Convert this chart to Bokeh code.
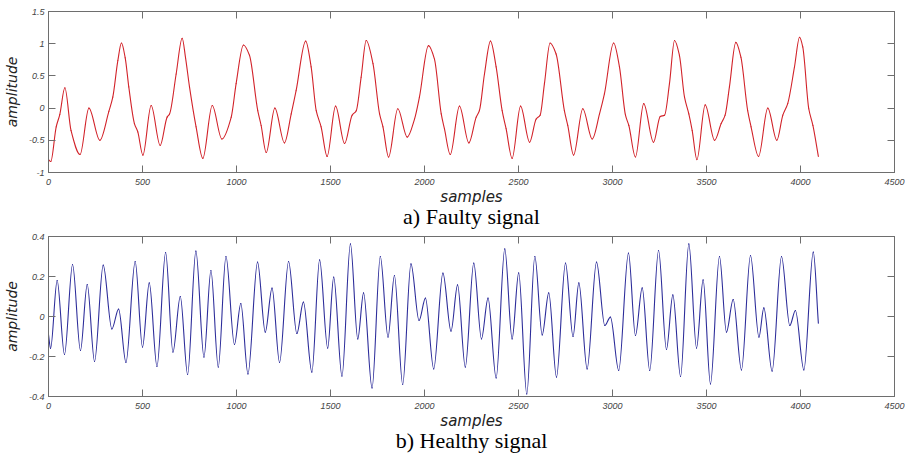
from bokeh.plotting import figure
from bokeh.layouts import column
from bokeh.models import LinearAxis, FixedTicker, Title, ColumnDataSource
from bokeh.embed import file_html
from bokeh.resources import INLINE

# ---- data ----
faulty_samples = [0, 12, 41, 60, 87, 120, 168, 215, 273, 321, 342, 369, 388, 408, 427, 457, 475, 502,
                  546, 594, 631, 644, 679, 711, 729, 750, 785, 821, 871, 922, 972, 998, 1037, 1069,
                  1113, 1131, 1158, 1204, 1255, 1291, 1317, 1368, 1397, 1424, 1450, 1482, 1527, 1575,
                  1615, 1637, 1663, 1690, 1726, 1761, 1779, 1809, 1858, 1908, 1947, 1973, 2021, 2053,
                  2089, 2106, 2137, 2186, 2236, 2275, 2292, 2319, 2351, 2381, 2413, 2434, 2466, 2511,
                  2559, 2594, 2615, 2638, 2668, 2700, 2744, 2762, 2793, 2842, 2892, 2931, 2957, 3006,
                  3037, 3069, 3087, 3122, 3166, 3218, 3254, 3277, 3303, 3330, 3356, 3383, 3406, 3424,
                  3449, 3493, 3543, 3578, 3599, 3622, 3656, 3683, 3719, 3737, 3777, 3826, 3874, 3906,
                  3932, 3968, 3995, 4012, 4044, 4066, 4095]
faulty_amp = [-0.80, -0.83, -0.29, -0.10, 0.315, -0.35, -0.72, 0.00, -0.50, -0.05, 0.17, 0.74, 1.01, 0.78, 0.33,
              -0.24, -0.37, -0.73, 0.04, -0.58, -0.14, -0.09, 0.53, 1.085, 0.78, 0.33, -0.29, -0.78, 0.04,
              -0.48, -0.14, 0.38, 0.98, 0.82, -0.04, -0.27, -0.69, 0.00, -0.54, -0.09, 0.27, 1.04, 0.64,
              -0.04, -0.29, -0.75, 0.03, -0.55, -0.11, -0.04, 0.48, 1.05, 0.69, -0.09, -0.29, -0.76, -0.01,
              -0.45, -0.17, 0.17, 0.97, 0.76, -0.09, -0.32, -0.72, 0.03, -0.54, -0.14, -0.04, 0.53, 1.04,
              0.64, -0.04, -0.32, -0.78, 0.03, -0.53, -0.17, -0.11, 0.38, 1.01, 0.84, -0.04, -0.27, -0.73,
              -0.01, -0.48, -0.09, 0.22, 1.01, 0.64, -0.11, -0.27, -0.76, 0.07, -0.53, -0.13, -0.11, 0.38,
              1.05, 0.82, 0.17, -0.09, -0.35, -0.80, 0.05, -0.50, -0.24, -0.11, 0.33, 1.02, 0.79, -0.04,
              -0.29, -0.75, 0.00, -0.50, -0.11, 0.07, 0.64, 1.10, 0.95, -0.01, -0.27, -0.75]

healthy_samples = [0, 11, 46, 85, 128, 170, 206, 245, 291, 337, 373, 412, 461, 500, 536, 577, 623, 662,
                   701, 740, 784, 827, 864, 903, 944, 989, 1023, 1061, 1112, 1153, 1189, 1229, 1277, 1321,
                   1356, 1401, 1442, 1485, 1517, 1561, 1606, 1645, 1676, 1721, 1765, 1806, 1840, 1884,
                   1928, 1971, 2005, 2049, 2098, 2141, 2176, 2217, 2262, 2303, 2338, 2381, 2427, 2466,
                   2501, 2544, 2587, 2626, 2661, 2702, 2750, 2790, 2821, 2865, 2915, 2959, 2989, 3033,
                   3085, 3122, 3158, 3198, 3245, 3287, 3321, 3362, 3406, 3447, 3482, 3521, 3569, 3606,
                   3642, 3686, 3734, 3779, 3805, 3849, 3899, 3943, 3973, 4018, 4068, 4095]
healthy_amp = [-0.09, -0.16, 0.18, -0.19, 0.26, -0.17, 0.16, -0.225, 0.257, -0.062, 0.037, -0.23, 0.275,
               -0.153, 0.168, -0.25, 0.32, -0.178, 0.10, -0.29, 0.327, -0.203, 0.23, -0.253, 0.30, -0.14,
               0.065, -0.287, 0.272, -0.078, 0.142, -0.23, 0.275, -0.085, 0.072, -0.278, 0.283, -0.158,
               0.197, -0.298, 0.363, -0.112, 0.118, -0.357, 0.30, -0.103, 0.205, -0.34, 0.263, -0.02,
               0.092, -0.262, 0.217, -0.073, 0.158, -0.253, 0.267, -0.112, 0.092, -0.307, 0.338, -0.112,
               0.218, -0.387, 0.30, -0.092, 0.118, -0.303, 0.267, -0.10, 0.168, -0.262, 0.272, -0.045,
               -0.003, -0.27, 0.317, -0.095, 0.143, -0.27, 0.33, -0.165, 0.108, -0.30, 0.363, -0.158,
               0.183, -0.337, 0.30, -0.078, 0.085, -0.267, 0.305, -0.103, 0.043, -0.273, 0.30, -0.045,
               0.03, -0.267, 0.322, -0.033]

x_ticks = [0, 500, 1000, 1500, 2000, 2500, 3000, 3500, 4000, 4500]
top_y_ticks = [-1, -0.5, 0, 0.5, 1, 1.5]
top_y_labels = ["-1", "-0.5", "0", "0.5", "1", "1.5"]
bot_y_ticks = [-0.4, -0.2, 0, 0.2, 0.4]
bot_y_labels = ["-0.4", "-0.2", "0", "0.2", "0.4"]

FRAME = "#6e6e6e"
TICKC = "#444444"


def smooth_segments(xs, ys):
    """Monotone cubic (Fritsch-Carlson) segments expressed as Bezier control points,
    so the library draws a smooth curve through the read points."""
    n = len(xs)
    h = [xs[i + 1] - xs[i] for i in range(n - 1)]
    d = [(ys[i + 1] - ys[i]) / h[i] for i in range(n - 1)]
    m = [0.0] * n
    m[0] = d[0]
    m[-1] = d[-1]
    for i in range(1, n - 1):
        if d[i - 1] * d[i] <= 0:
            m[i] = 0.0
        else:
            w1 = 2 * h[i] + h[i - 1]
            w2 = h[i] + 2 * h[i - 1]
            m[i] = (w1 + w2) / (w1 / d[i - 1] + w2 / d[i])
    src = dict(x0=[], y0=[], x1=[], y1=[], cx0=[], cy0=[], cx1=[], cy1=[])
    for i in range(n - 1):
        src["x0"].append(xs[i]); src["y0"].append(ys[i])
        src["x1"].append(xs[i + 1]); src["y1"].append(ys[i + 1])
        src["cx0"].append(xs[i] + h[i] / 3); src["cy0"].append(ys[i] + m[i] * h[i] / 3)
        src["cx1"].append(xs[i + 1] - h[i] / 3); src["cy1"].append(ys[i + 1] - m[i + 1] * h[i] / 3)
    return ColumnDataSource(src)


def style_axis(ax, labels=True):
    ax.axis_line_color = FRAME
    ax.major_tick_line_color = FRAME
    ax.major_tick_in = 7
    ax.major_tick_out = 0
    ax.minor_tick_line_color = None
    if labels:
        ax.major_label_text_font = "Liberation Sans"
        ax.major_label_text_font_style = "italic"
        ax.major_label_text_font_size = "9px"
        ax.major_label_text_color = TICKC
        ax.axis_label_text_font = "DejaVu Sans"
        ax.axis_label_text_font_style = "italic"
        ax.axis_label_text_font_size = "14px"
        ax.axis_label_text_color = "#222222"
    else:
        ax.major_label_text_color = None
        ax.major_label_text_font_size = "1px"
        ax.major_label_standoff = 0


def make(xs, ys, color, yr, yt, yl, caption, top_border, frame_h, bottom_border, s_stand, c_stand):
    p = figure(width=905, height=top_border + frame_h + bottom_border,
               frame_width=846, frame_height=frame_h,
               x_range=(0, 4500), y_range=yr,
               output_backend="svg", toolbar_location=None,
               min_border_left=46, min_border_right=13,
               min_border_top=top_border, min_border_bottom=bottom_border)
    p.bezier(x0="x0", y0="y0", x1="x1", y1="y1", cx0="cx0", cy0="cy0", cx1="cx1", cy1="cy1",
             source=smooth_segments(xs, ys), line_color=color, line_width=1.1, line_cap="round")
    p.grid.visible = False
    p.outline_line_color = FRAME
    p.background_fill_color = "white"
    p.border_fill_color = "white"

    xa = p.xaxis[0]
    ya = p.yaxis[0]
    xa.ticker = FixedTicker(ticks=x_ticks)
    ya.ticker = FixedTicker(ticks=yt)
    ya.major_label_overrides = {t: l for t, l in zip(yt, yl)}
    style_axis(xa)
    style_axis(ya)
    ya.axis_label = "amplitude"
    xa.major_label_standoff = 6
    ya.major_label_standoff = 4
    ya.axis_label_standoff = 6

    top = LinearAxis(ticker=FixedTicker(ticks=x_ticks))
    right = LinearAxis(ticker=FixedTicker(ticks=yt))
    style_axis(top, labels=False)
    style_axis(right, labels=False)
    p.add_layout(top, "above")
    p.add_layout(right, "right")

    xlab = Title(text="samples", align="center", text_font="DejaVu Sans",
                 text_font_size="15px", text_font_style="italic", text_color="#222222",
                 standoff=s_stand, offset=0)
    p.add_layout(xlab, "below")
    cap = Title(text=caption, align="center", text_font="Liberation Serif",
                text_font_size="22px", text_font_style="normal", text_color="black",
                standoff=c_stand, offset=0)
    p.add_layout(cap, "below")
    return p


p1 = make(faulty_samples, faulty_amp, "#d2232a", (-1, 1.5), top_y_ticks, top_y_labels,
          "a) Faulty signal", 11, 161, 60, -3, -5)
p2 = make(healthy_samples, healthy_amp, "#2d2d9a", (-0.4, 0.4), bot_y_ticks, bot_y_labels,
          "b) Healthy signal", 4, 160, 58, -3, -5)

layout = column(p1, p2, spacing=0)
open("out.html", "w").write(file_html(layout, INLINE))
